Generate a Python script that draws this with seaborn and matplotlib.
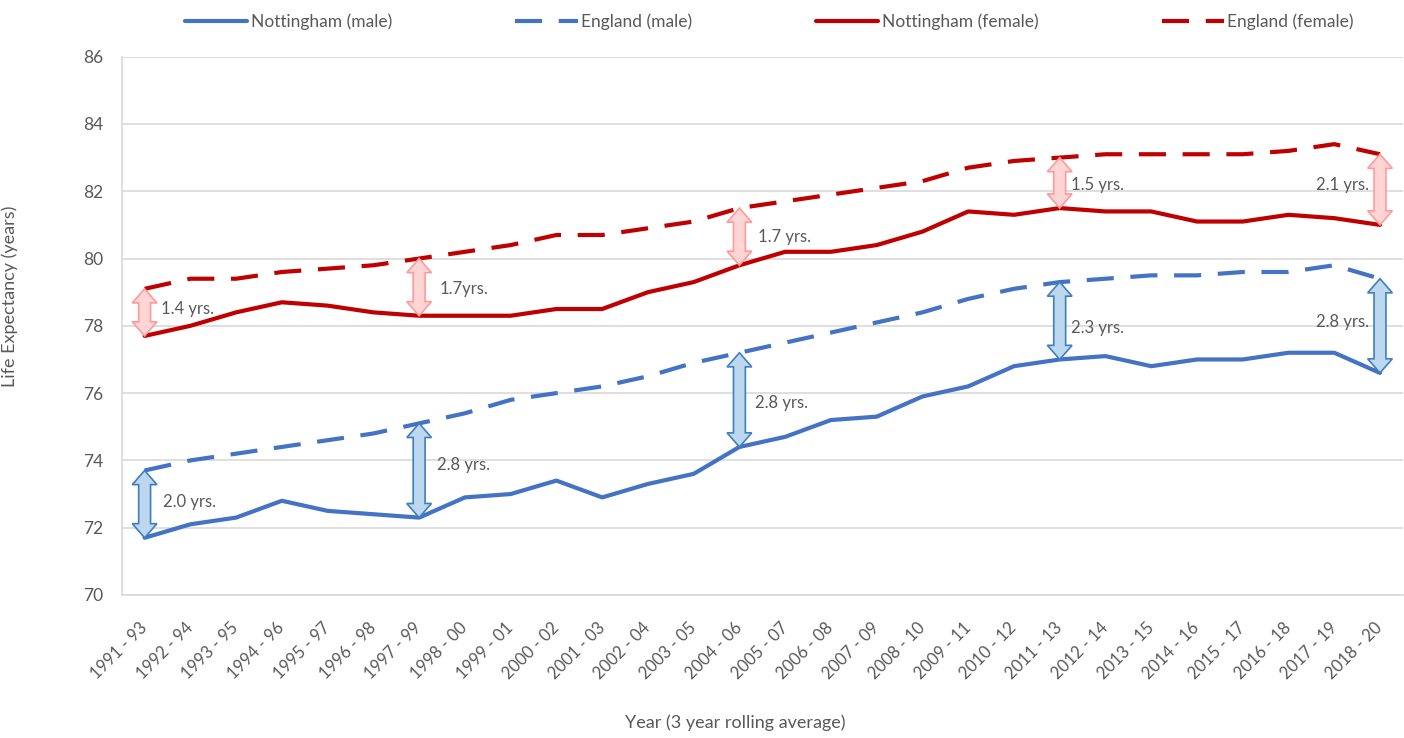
import numpy as np
import pandas as pd
import matplotlib
matplotlib.use("Agg")
import matplotlib.pyplot as plt
from matplotlib.patches import Polygon
import seaborn as sns

# periods (3 year rolling)
periods = ["1991 - 93", "1992 - 94", "1993 - 95", "1994 - 96", "1995 - 97", "1996 - 98",
           "1997 - 99", "1998 - 00", "1999 - 01", "2000 - 02", "2001 - 03", "2002 - 04",
           "2003 - 05", "2004 - 06", "2005 - 07", "2006 - 08", "2007 - 09", "2008 - 10",
           "2009 - 11", "2010 - 12", "2011 - 13", "2012 - 14", "2013 - 15", "2014 - 16",
           "2015 - 17", "2016 - 18", "2017 - 19", "2018 - 20"]

nott_male = [71.7, 72.1, 72.3, 72.8, 72.5, 72.4, 72.3, 72.9, 73.0, 73.4, 72.9, 73.3, 73.6, 74.4,
             74.7, 75.2, 75.3, 75.9, 76.2, 76.8, 77.0, 77.1, 76.8, 77.0, 77.0, 77.2, 77.2, 76.6]
eng_male = [73.7, 74.0, 74.2, 74.4, 74.6, 74.8, 75.1, 75.4, 75.8, 76.0, 76.2, 76.5, 76.9, 77.2,
            77.5, 77.8, 78.1, 78.4, 78.8, 79.1, 79.3, 79.4, 79.5, 79.5, 79.6, 79.6, 79.8, 79.4]
nott_female = [77.7, 78.0, 78.4, 78.7, 78.6, 78.4, 78.3, 78.3, 78.3, 78.5, 78.5, 79.0, 79.3, 79.8,
               80.2, 80.2, 80.4, 80.8, 81.4, 81.3, 81.5, 81.4, 81.4, 81.1, 81.1, 81.3, 81.2, 81.0]
eng_female = [79.1, 79.4, 79.4, 79.6, 79.7, 79.8, 80.0, 80.2, 80.4, 80.7, 80.7, 80.9, 81.1, 81.5,
              81.7, 81.9, 82.1, 82.3, 82.7, 82.9, 83.0, 83.1, 83.1, 83.1, 83.1, 83.2, 83.4, 83.1]

# gap arrows: period index and label text
gap_idx = [0, 6, 13, 20, 27]
female_gap_labels = ["1.4 yrs.", "1.7yrs.", "1.7 yrs.", "1.5 yrs.", "2.1 yrs."]
male_gap_labels = ["2.0 yrs.", "2.8 yrs.", "2.8 yrs.", "2.3 yrs.", "2.8 yrs."]

BLUE = "#4472c4"
RED = "#c00000"
GREY = "#595959"

sns.set_style("white")
plt.rcParams['font.family'] = ['Lato', 'DejaVu Sans']

x = np.arange(len(periods))
df = pd.DataFrame({
    "x": x,
    "Nottingham (male)": nott_male,
    "England (male)": eng_male,
    "Nottingham (female)": nott_female,
    "England (female)": eng_female,
})

fig = plt.figure(figsize=(14.04, 7.38), dpi=100)
ax = fig.add_axes([0.0867, 0.1938, 0.9125, 0.7294])

styles = {
    "Nottingham (male)": (BLUE, "-"),
    "England (male)": (BLUE, "--"),
    "Nottingham (female)": (RED, "-"),
    "England (female)": (RED, "--"),
}
for name, (col, ls) in styles.items():
    sns.lineplot(data=df, x="x", y=name, ax=ax, color=col, lw=3, label=name)
    line = ax.lines[-1]
    if ls == "--":
        line.set_dashes((6.5, 4))

def double_arrow(ax, xc, y0, y1, face, edge, w=0.13, hw=0.27, hl=0.42):
    lo, hi = min(y0, y1), max(y0, y1)
    pts = [(xc, hi), (xc + hw, hi - hl), (xc + w, hi - hl), (xc + w, lo + hl),
           (xc + hw, lo + hl), (xc, lo), (xc - hw, lo + hl), (xc - w, lo + hl),
           (xc - w, hi - hl), (xc - hw, hi - hl)]
    ax.add_patch(Polygon(pts, closed=True, facecolor=face, edgecolor=edge, lw=1.2, zorder=4))

label_pos_f = [(0.35, 78.5, "left"), (0.45, 79.1, "left"), (0.4, 80.65, "left"),
               (0.25, 82.2, "left"), (-0.25, 82.2, "right")]
label_pos_m = [(0.4, 72.75, "left"), (0.4, 73.85, "left"), (0.35, 75.7, "left"),
               (0.25, 77.95, "left"), (-0.25, 78.1, "right")]

for k, i in enumerate(gap_idx):
    double_arrow(ax, i, eng_female[i], nott_female[i], "#ffd5d5", "#ff9a9a")
    double_arrow(ax, i, eng_male[i], nott_male[i], "#bdd7ee", "#3f7fbf")
    dx, yy, ha = label_pos_f[k]
    ax.text(i + dx, yy, female_gap_labels[k], ha=ha, va="center", fontsize=12, color=GREY, zorder=5)
    dx, yy, ha = label_pos_m[k]
    ax.text(i + dx, yy, male_gap_labels[k], ha=ha, va="center", fontsize=12, color=GREY, zorder=5)

ax.set_xlim(-0.5, len(periods) - 0.5)
ax.set_ylim(70, 86)
ax.set_yticks(np.arange(70, 87, 2))
ax.set_xticks(x)
ax.set_xticklabels(periods, rotation=45, ha="right", va="center", rotation_mode="anchor")
ax.set_xticks(np.arange(-0.5, len(periods)), minor=True)
ax.tick_params(axis="x", which="major", length=0, pad=22, labelsize=12, labelcolor=GREY)
ax.tick_params(axis="x", which="minor", length=5, color="#d9d9d9", width=1.2, direction="out")
ax.tick_params(axis="y", length=5, color="#d9d9d9", width=1.2, pad=8, labelsize=12.5, labelcolor=GREY)
ax.grid(axis="y", color="#d9d9d9", lw=1.2)
ax.set_axisbelow(True)
for s in ["top", "right"]:
    ax.spines[s].set_visible(False)
for s in ["left", "bottom"]:
    ax.spines[s].set_color("#d9d9d9")
    ax.spines[s].set_linewidth(1.2)

ax.set_xlabel("Year (3 year rolling average)", fontsize=13, color=GREY)
ax.set_ylabel("Life Expectancy (years)", fontsize=13, color=GREY)
ax.xaxis.set_label_coords(0.479, -0.222)
ax.yaxis.set_label_coords(-0.081, 0.554)

handles, labels = ax.get_legend_handles_labels()
ax.get_legend().remove()
fig.legend(handles, labels, loc="center", bbox_to_anchor=(0.548, 1 - 22 / 738), ncol=4,
           frameon=False, fontsize=12.5, handlelength=3.6, handletextpad=0.2, columnspacing=7.1,
           labelcolor=GREY)

fig.savefig("out.png", dpi=100)
